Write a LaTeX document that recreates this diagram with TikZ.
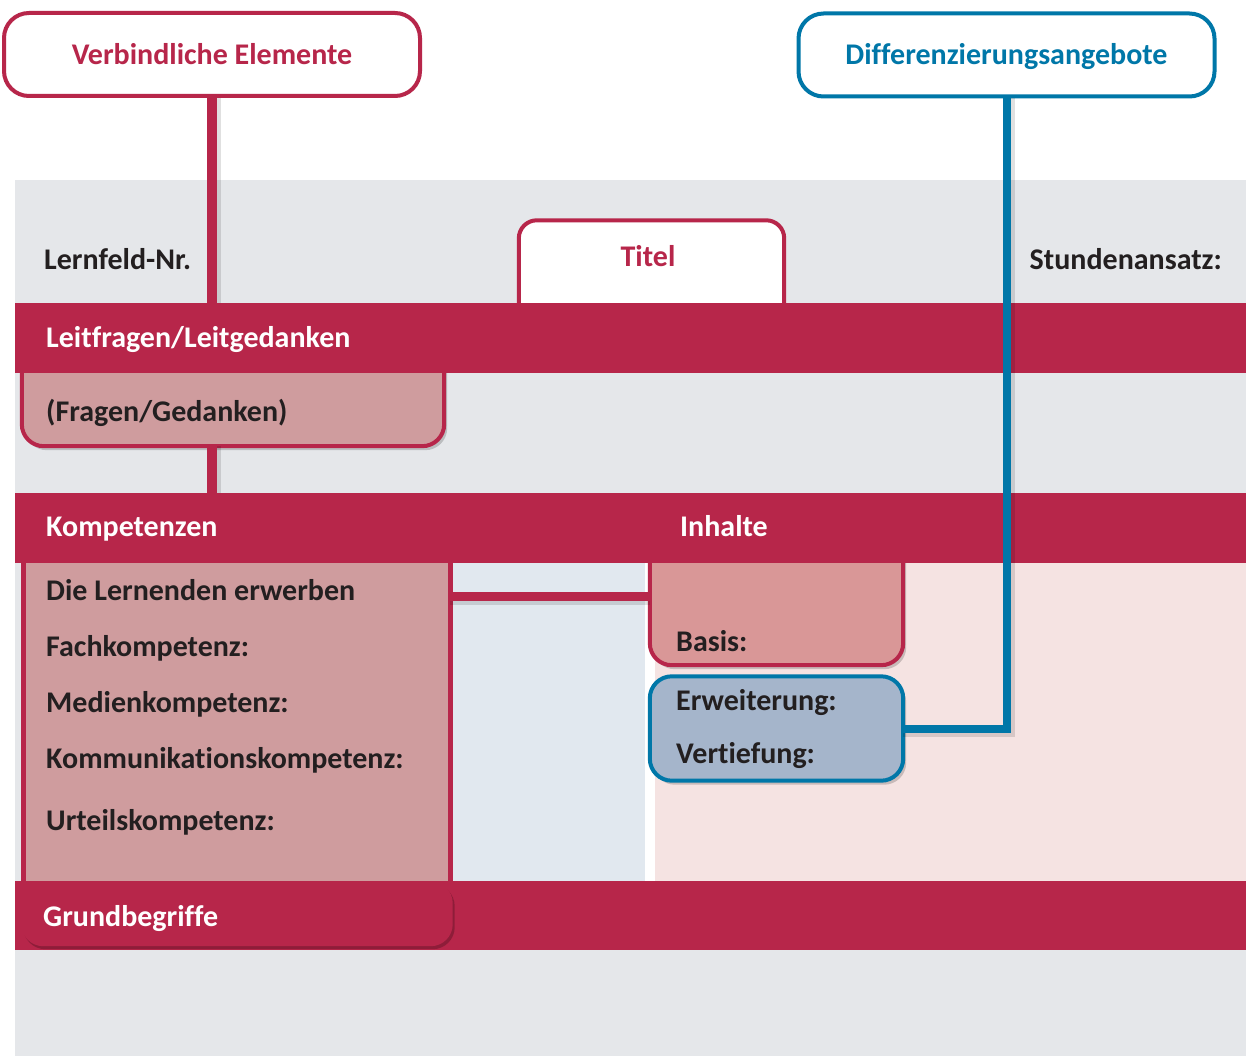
\documentclass[tikz,border=0pt]{standalone}
\usepackage{fontspec}
\setmainfont[Ligatures=NoCommon]{Carlito}
\usetikzlibrary{shadows,calc}
\definecolor{crim}{HTML}{B7264A}
\definecolor{blu}{HTML}{0077A8}
\definecolor{bg}{HTML}{E5E7EA}
\definecolor{pinkbox}{HTML}{CF9C9E}
\definecolor{basisfill}{HTML}{D99797}
\definecolor{bluefill}{HTML}{A5B5CB}
\definecolor{lblue}{HTML}{E1E8EF}
\definecolor{lpink}{HTML}{F5E3E2}
\definecolor{txt}{HTML}{231F20}
\newcommand\fsz{\fontsize{30}{33}\selectfont}
\begin{document}
\begin{tikzpicture}[x=1pt,y=-1pt,
  tx/.style={font=\fsz\bfseries, text=txt, anchor=west, inner sep=0pt, text height=19.5pt, text depth=0pt},
  wtx/.style={tx, text=white},
  band/.style={fill=crim, inner sep=0pt, minimum width=1231pt, anchor=north west},
  area/.style={inner sep=0pt},
  topbox/.style={line width=4pt, fill=white, rounded corners=25pt, inner sep=0pt, minimum width=416pt, minimum height=83pt, font=\fsz\bfseries, text height=19.5pt, text depth=0pt},
  shline/.style={draw=black, opacity=0.12},
  boxshadow/.style={drop shadow={shadow xshift=3pt, shadow yshift=-4pt, opacity=0.18, fill=black}}
]
\useasboundingbox (0,0) rectangle (1246,1056);
\fill[white] (0,0) rectangle (1246,1056);
\fill[bg] (15,180) rectangle (1246,1056);
% column backgrounds
\fill[lblue] (452,563) rectangle (645,881);
\fill[white] (645,563) rectangle (655,881);
\fill[lpink] (655,563) rectangle (1246,881);

% top boxes
\node[topbox, draw=crim, text=crim] (verb) at (212,54.5) {Verbindliche Elemente};
\node[topbox, draw=blu, text=blu] (diff) at (1006.5,55) {Differenzierungsangebote};

% title tab
\node[area, minimum width=265pt, minimum height=83pt] (titel) at (651.5,262) {};
\draw[crim, line width=4pt, fill=white, rounded corners=18pt]
  (titel.south west) -- (titel.north west) -- (titel.north east) -- (titel.south east);
\node[tx, text=crim, anchor=center] (titeltxt) at (648,257) {Titel};

\node[tx] (lfnr) at (44,260) {Lernfeld-Nr.};
\node[tx, anchor=east] (stdn) at (1222,260) {Stundenansatz:};

% Fragen box
\node[area, minimum width=422pt, minimum height=80pt] (fragen) at (233,406) {};
\draw[crim, line width=4pt, fill=pinkbox, rounded corners=22pt, boxshadow]
  (fragen.north west) -- (fragen.south west) -- (fragen.south east) -- (fragen.north east);

% Kompetenzen box
\node[area, minimum width=426pt, minimum height=318pt] (komp) at (237,722) {};
\draw[crim, line width=5pt, fill=pinkbox]
  ($(komp.north west)+(0,-5)$) -- ($(komp.south west)+(0,40)$) -- ($(komp.south east)+(0,40)$) -- ($(komp.north east)+(0,-5)$);

% Basis and Erweiterung areas
\node[area, minimum width=253pt, minimum height=102pt] (basis) at (776.5,614) {};
\node[area, minimum width=253pt, minimum height=104pt] (erw) at (776.5,728.5) {};
\draw[crim, line width=4pt, fill=basisfill, rounded corners=22pt, boxshadow]
  ($(basis.north west)+(0,-5)$) -- (basis.south west) -- (basis.south east) -- ($(basis.north east)+(0,-5)$);

% bands
\node[band, minimum height=70pt] (band1) at (15,303) {};
\node[band, minimum height=70pt] (band2) at (15,493) {};
\node[band, minimum height=69pt] (band3) at (15,881) {};

% bottom of Kompetenzen box inside band3
\fill[crim, rounded corners=22pt, drop shadow={shadow xshift=2pt, shadow yshift=-3pt, opacity=0.22, fill=black}]
  ($(komp.south west)+(-2.5,0)$) -- ($(komp.south west)+(-2.5,65)$) -- ($(komp.south east)+(2.5,65)$) -- ($(komp.south east)+(2.5,0)$) -- cycle;

% Erweiterung box
\draw[blu, line width=4pt, fill=bluefill, rounded corners=22pt, boxshadow]
  (erw.north west) rectangle (erw.south east);

% connectors (shadows first)
\draw[shline, line width=10pt] ([xshift=4pt]verb.south) -- ([xshift=4pt]verb.south |- band1.north);
\draw[crim, line width=10pt] (verb.south) -- (verb.south |- band1.north);
\draw[shline, line width=10pt] ([xshift=4pt]verb.south |- fragen.south) -- ([xshift=4pt]verb.south |- band2.north);
\draw[crim, line width=10pt] (verb.south |- fragen.south) -- (verb.south |- band2.north);
\draw[shline, line width=9pt] ([yshift=-4pt]komp.east |- basis.172) -- ([yshift=-4pt]basis.172);
\draw[crim, line width=9pt] (komp.east |- basis.172) -- (basis.172);
\draw[shline, line width=8pt] ([xshift=4pt]diff.south) -- ([xshift=4pt,yshift=-4pt]diff.south |- erw.east) -- ([yshift=-4pt]erw.east);
\draw[blu, line width=8pt] (diff.south) -- (diff.south |- erw.east) -- (erw.east);

% texts
\node[wtx] (ltext) at (46,338) {Leitfragen/Leitgedanken};
\node[tx] (fragtxt) at (46,412) {(Fragen/Gedanken)};
\node[wtx] (komptxt) at (46,527) {Kompetenzen};
\node[wtx] (inhtxt) at (680,527) {Inhalte};
\node[tx] (die) at (46,591) {Die Lernenden erwerben};
\node[tx] (fach) at (46,647) {Fachkompetenz:};
\node[tx] (medien) at (46,703) {Medienkompetenz:};
\node[tx] (komm) at (46,759) {Kommunikationskompetenz:};
\node[tx] (urteil) at (46,821) {Urteilskompetenz:};
\node[tx] (basistxt) at (676,642) {Basis:};
\node[tx] (erwtxt) at (676,701) {Erweiterung:};
\node[tx] (verttxt) at (676,754) {Vertiefung:};
\node[wtx] (grund) at (43,917) {Grundbegriffe};
\end{tikzpicture}
\end{document}
